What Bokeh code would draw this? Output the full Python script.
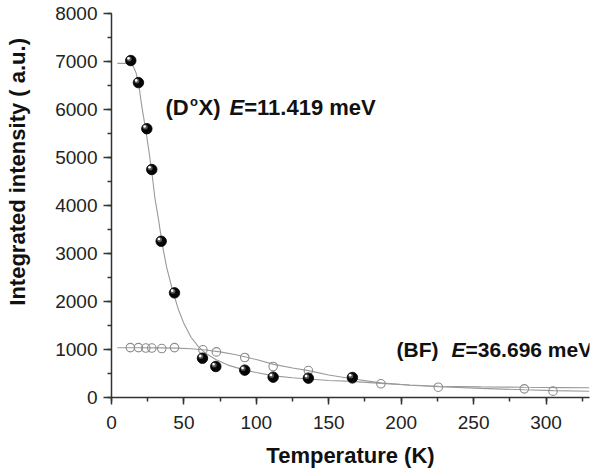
from bokeh.plotting import figure
from bokeh.models import Range1d, Label, SingleIntervalTicker
from bokeh.embed import file_html
from bokeh.resources import INLINE

# ---------------- data ----------------
dox_T = [13.3, 18.6, 24.4, 27.8, 34.3, 43.5, 62.8, 72.0, 92.0, 111.6, 135.9, 166.3]
dox_I = [7020, 6560, 5600, 4750, 3255, 2180, 819, 646, 570, 424, 403, 417]

bf_T = [13.0, 18.6, 23.7, 27.8, 34.7, 43.5, 63.1, 72.4, 92.0, 111.6, 135.9, 166.3, 186.0, 225.6, 285.0, 304.8]
bf_I = [1040, 1040, 1030, 1030, 1020, 1040, 994, 950, 833, 646, 562, 382, 285, 215, 180, 132]

dox_fit_T = [4, 10, 13, 15, 17, 19, 21, 23.5, 26, 28, 30, 32.5, 35, 38, 42, 46, 50, 55, 60, 65,
             72, 80, 92, 100, 112, 125, 136, 150, 166, 186, 206, 226, 255, 285, 310, 330]
dox_fit_I = [6960, 6960, 6950, 6900, 6760, 6480, 6050, 5600, 5100, 4650, 4150, 3700, 3200, 2720,
             2250, 1850, 1540, 1250, 1060, 920, 790, 680, 570, 520, 450, 410, 385, 355, 335, 295,
             260, 235, 222, 212, 206, 202]

bf_fit_T = [4, 20, 35, 45, 55, 65, 75, 85, 92, 100, 112, 125, 136, 150, 166, 186, 206, 226, 255,
            285, 305, 330]
bf_fit_I = [1035, 1035, 1033, 1028, 1015, 990, 950, 895, 850, 790, 690, 615, 560, 470, 390, 305,
            255, 225, 190, 160, 143, 130]

x_ticks_interval = 50
y_ticks_interval = 1000
x_label = "Temperature (K)"
y_label = "Integrated intensity ( a.u.)"

# ---------------- layout ----------------
W, H = 600, 473
BL, BR, BT, BB = 111, 11, 13, 76
X0, X1 = 0, 330
Y0, Y1 = 0, 8000
FW = W - BL - BR
FH = H - BT - BB
PXX = FW / (X1 - X0)   # px per x unit
PXY = FH / (Y1 - Y0)   # px per y unit
PAGE_LEFT = BL
PAGE_BOTTOM = BT + FH


def px2x(px):
    return X0 + (px - PAGE_LEFT) / PXX


def py2y(py):
    return Y0 + (PAGE_BOTTOM - py) / PXY


FONT = "Liberation Sans"

p = figure(width=W, height=H, output_backend="svg", toolbar_location=None,
           x_range=Range1d(X0, X1), y_range=Range1d(Y0, Y1),
           min_border_left=BL, min_border_right=BR, min_border_top=BT,
           min_border_bottom=BB, background_fill_color="white",
           border_fill_color="white")
p.outline_line_color = None
p.xgrid.visible = False
p.ygrid.visible = False

p.xaxis.ticker = SingleIntervalTicker(interval=x_ticks_interval, num_minor_ticks=2)
p.yaxis.ticker = SingleIntervalTicker(interval=y_ticks_interval, num_minor_ticks=2)

for ax in (p.xaxis[0], p.yaxis[0]):
    ax.axis_line_color = "#333333"
    ax.axis_line_width = 1.5
    ax.major_tick_line_color = "#333333"
    ax.major_tick_line_width = 1.5
    ax.minor_tick_line_color = "#333333"
    ax.minor_tick_line_width = 1.5
    ax.major_tick_in = 0
    ax.minor_tick_in = 0
    ax.minor_tick_out = 4
    ax.major_label_text_font = FONT
    ax.major_label_text_font_size = "19px"
    ax.major_label_text_color = "#222222"
    ax.axis_label_text_font = FONT
    ax.axis_label_text_font_style = "bold"
    ax.axis_label_text_font_size = "22px"
    ax.axis_label_text_color = "#111111"

p.xaxis.major_tick_out = 7
p.yaxis.major_tick_out = 8
p.xaxis.major_label_standoff = 11
p.yaxis.major_label_standoff = 6
p.xaxis.axis_label = x_label
p.xaxis.axis_label_standoff = 11
# leading no-break spaces shift the centred title upward, as in the reference
p.yaxis.axis_label = "\u00a0" * 11 + y_label
p.yaxis.axis_label_standoff = 22

# ---------------- fit curves ----------------
p.line(dox_fit_T, dox_fit_I, line_color="#9a9a9a", line_width=1.1)
p.line(bf_fit_T, bf_fit_I, line_color="#9a9a9a", line_width=1.1)

# ---------------- BF open circles ----------------
p.scatter(bf_T, bf_I, marker="circle", size=8.5, fill_color=None,
          line_color="#8c8c8c", line_width=1.1)

# ---------------- D0X spheres ----------------
p.scatter(dox_T, dox_I, marker="circle", size=10.5, fill_color="#050505",
          line_color="#000000", line_width=0.8)
dx1, dy1 = -1.6 / PXX, 1.6 / PXY
p.scatter([t + dx1 for t in dox_T], [v + dy1 for v in dox_I], marker="circle", size=5,
          fill_color="#6a6a6a", line_color=None, fill_alpha=0.8)
dx2, dy2 = -2.2 / PXX, 2.2 / PXY
p.scatter([t + dx2 for t in dox_T], [v + dy2 for v in dox_I], marker="circle", size=2.6,
          fill_color="#ffffff", line_color=None)

# ---------------- annotations ----------------
def add_label(text, px, py, size="22px", style="bold"):
    p.add_layout(Label(x=px2x(px), y=py2y(py), text=text, text_font=FONT,
                       text_font_style=style, text_font_size=size,
                       text_color="#111111", text_baseline="alphabetic",
                       text_align="left"))


add_label("(D", 165, 107.3)
add_label("o", 189.5, 100.5, size="13px")
add_label("X)", 198, 107.3)
add_label("E", 229, 107.3, style="bold italic")
add_label("=11.419 meV", 243.7, 107.3)

add_label("(BF)", 396, 349.3, size="21px")
add_label("E", 451, 349.3, size="21px", style="bold italic")
add_label("=36.696 meV", 465, 349.3, size="21px")

open("out.html", "w").write(file_html(p, INLINE))
